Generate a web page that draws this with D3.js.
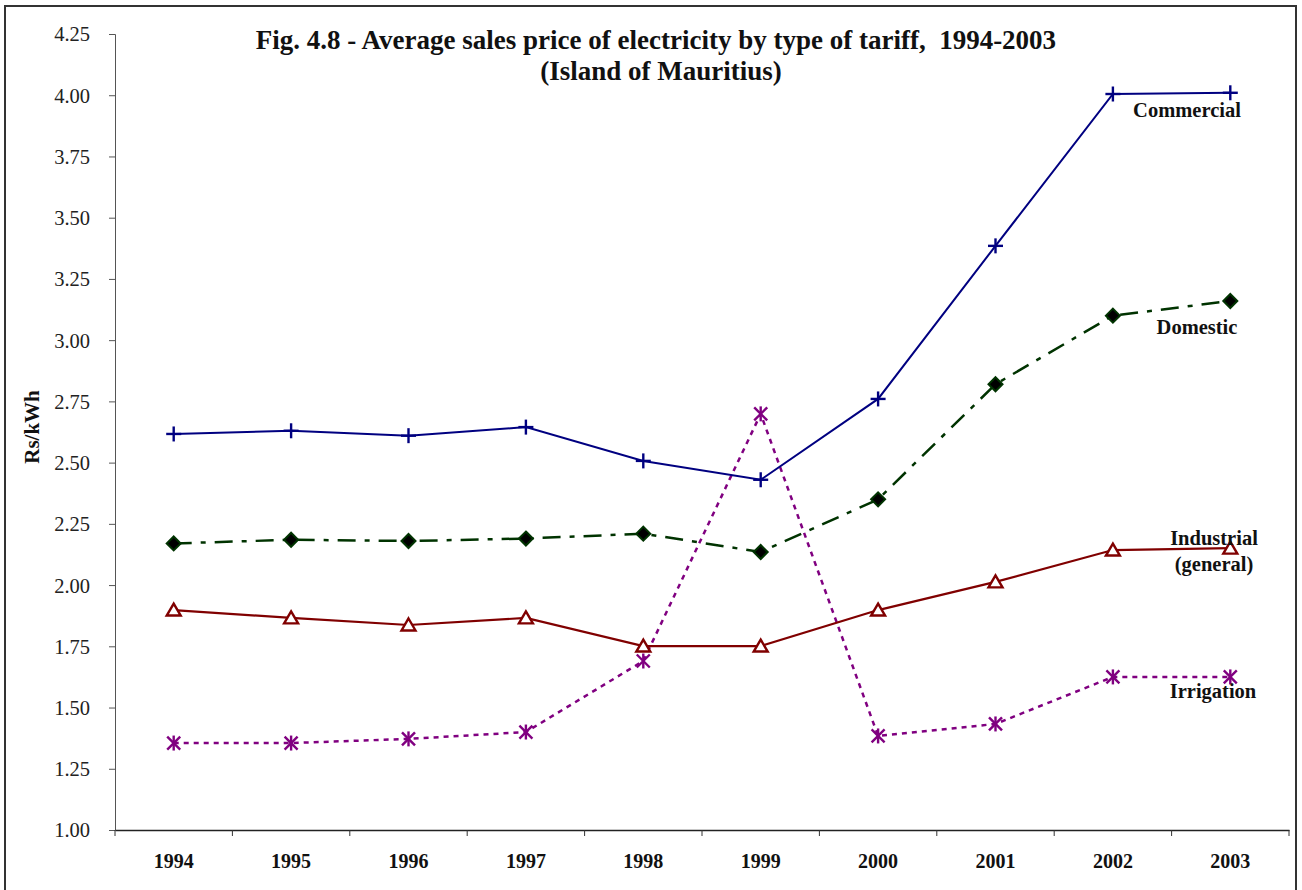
<!DOCTYPE html>
<html><head><meta charset="utf-8">
<script src="https://cdn.jsdelivr.net/npm/d3@7"></script>
<style>body{margin:0;background:#fff}svg{display:block}text{font-family:"Liberation Serif","Times New Roman",serif;white-space:pre}</style>
</head><body>
<svg id="c" width="1302" height="890"></svg>
<script>
const years = ["1994","1995","1996","1997","1998","1999","2000","2001","2002","2003"];
const commercial = [2.617,2.63,2.61,2.645,2.507,2.43,2.76,3.385,4.005,4.01];
const domestic = [2.17,2.185,2.18,2.19,2.21,2.135,2.35,2.82,3.10,3.16];
const industrial = [1.898,1.866,1.837,1.866,1.751,1.751,1.898,2.013,2.143,2.151];
const irrigation = [1.355,1.355,1.372,1.40,1.69,2.699,1.384,1.433,1.625,1.625];
const yTicks = [1.00,1.25,1.50,1.75,2.00,2.25,2.50,2.75,3.00,3.25,3.50,3.75,4.00,4.25];

const svg = d3.select("#c");
svg.append("rect").attr("x",5).attr("y",6).attr("width",1291).attr("height",900)
  .attr("fill","#fff").attr("stroke","#333").attr("stroke-width",2);

const x = d3.scaleBand().domain(years).range([115,1289]);
const y = d3.scaleLinear().domain([1,4.25]).range([830,34]);

const ya = svg.append("g").attr("transform","translate(115,0)")
  .call(d3.axisLeft(y).tickValues(yTicks).tickFormat(d3.format(".2f")).tickSize(6).tickPadding(19));
ya.select(".domain").attr("stroke","#555");
ya.selectAll(".tick line").attr("stroke","#555");
ya.selectAll("text").attr("font-size",20.5).attr("fill","#222").attr("dy","0.34em");

const xa = svg.append("g").attr("transform","translate(0,830)")
  .call(d3.axisBottom(x).tickSize(0).tickPadding(24));
xa.select(".domain").attr("stroke","#222").attr("stroke-width",1.3);
xa.selectAll("text").attr("font-size",20).attr("font-weight","bold").attr("fill","#111");
// category boundary ticks
svg.append("g").selectAll("line").data(years.concat(["end"])).join("line")
  .attr("x1",(d,i)=>115+i*x.bandwidth()).attr("x2",(d,i)=>115+i*x.bandwidth())
  .attr("y1",830).attr("y2",836).attr("stroke","#333");

svg.append("text").attr("transform","translate(39,427) rotate(-90)").attr("text-anchor","middle")
  .attr("font-size",21).attr("font-weight","bold").attr("fill","#111").text("Rs/kWh");

svg.append("text").attr("x",656).attr("y",49).attr("text-anchor","middle").attr("font-size",27).attr("font-weight","bold").attr("fill","#111")
  .text("Fig. 4.8 - Average sales price of electricity by type of tariff,  1994-2003");
svg.append("text").attr("x",661).attr("y",80).attr("text-anchor","middle").attr("font-size",27).attr("font-weight","bold").attr("fill","#111")
  .text("(Island of Mauritius)");

const cx = d => x(d) + x.bandwidth()/2;
const line = d3.line().x((d,i)=>cx(years[i])).y(d=>y(d));

// Irrigation
svg.append("path").datum(irrigation).attr("d",line).attr("fill","none").attr("stroke","#800080")
  .attr("stroke-width",2.5).attr("stroke-dasharray","5,5");
// Industrial
svg.append("path").datum(industrial).attr("d",line).attr("fill","none").attr("stroke","#800000").attr("stroke-width",2.2);
// Domestic
svg.append("path").datum(domestic).attr("d",line).attr("fill","none").attr("stroke","#003300")
  .attr("stroke-width",2.5).attr("stroke-dasharray","18,9,5,9");
// Commercial
svg.append("path").datum(commercial).attr("d",line).attr("fill","none").attr("stroke","#000080").attr("stroke-width",2);

// markers
const g = svg.append("g");
irrigation.forEach((v,i)=>{
  const px=cx(years[i]), py=y(v), s=6.5;
  const m=g.append("g").attr("transform",`translate(${px},${py})`).attr("stroke","#800080").attr("stroke-width",2.4);
  m.append("line").attr("x1",-s).attr("y1",-s).attr("x2",s).attr("y2",s);
  m.append("line").attr("x1",-s).attr("y1",s).attr("x2",s).attr("y2",-s);
  m.append("line").attr("x1",0).attr("y1",-s-1).attr("x2",0).attr("y2",s+1);
});
industrial.forEach((v,i)=>{
  const px=cx(years[i]), py=y(v);
  g.append("path").attr("transform",`translate(${px},${py})`).attr("d","M0,-6.5L7,5.5L-7,5.5Z")
    .attr("fill","#fff").attr("stroke","#800000").attr("stroke-width",2.4);
});
domestic.forEach((v,i)=>{
  const px=cx(years[i]), py=y(v);
  g.append("path").attr("transform",`translate(${px},${py})`).attr("d","M0,-7L7,0L0,7L-7,0Z")
    .attr("fill","#000").attr("stroke","#003300").attr("stroke-width",2);
});
commercial.forEach((v,i)=>{
  const px=cx(years[i]), py=y(v), s=7.5;
  const m=g.append("g").attr("transform",`translate(${px},${py})`).attr("stroke","#000080").attr("stroke-width",2.4);
  m.append("line").attr("x1",-s).attr("y1",0).attr("x2",s).attr("y2",0);
  m.append("line").attr("x1",0).attr("y1",-s).attr("x2",0).attr("y2",s);
});

const lab = (t,px,py)=>svg.append("text").attr("x",px).attr("y",py).attr("text-anchor","middle")
  .attr("font-size",20.5).attr("font-weight","bold").attr("fill","#111").text(t);
lab("Commercial",1187,117);
lab("Domestic",1197,334);
lab("Industrial",1214,545);
lab("(general)",1214,571);
lab("Irrigation",1213,698);
</script>
</body></html>
